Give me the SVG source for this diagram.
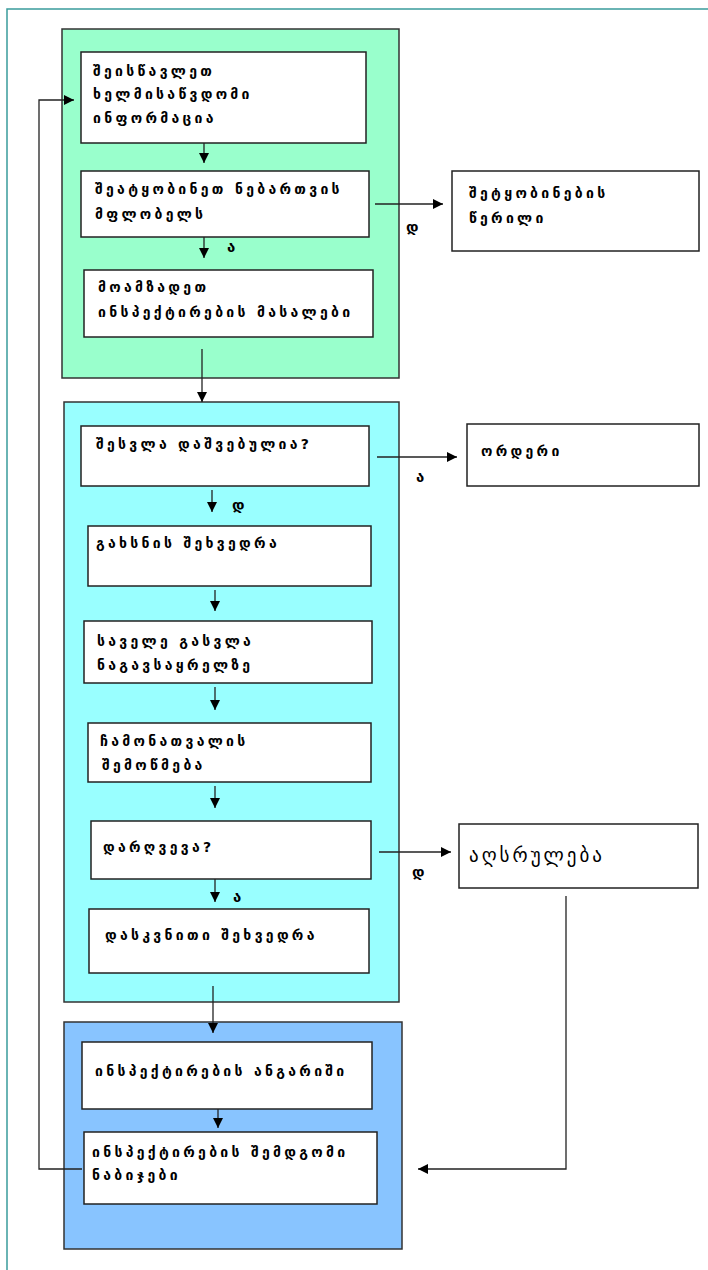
<svg xmlns="http://www.w3.org/2000/svg" width="708" height="1270" viewBox="0 0 708 1270">
<style>
.frame{fill:none;stroke:#3a9c9c;stroke-width:1.5}
.cont{stroke:#333;stroke-width:1.5}
.box{fill:#fff;stroke:#222;stroke-width:1.5}
.t{font-family:"DejaVu Sans",sans-serif;font-weight:bold;font-size:14px;letter-spacing:3.3px;fill:#000}
.r{font-family:"DejaVu Sans",sans-serif;font-size:19px;letter-spacing:3px;fill:#000}
.lbl{font-family:"DejaVu Sans",sans-serif;font-weight:bold;font-size:15px;fill:#000}
.c{fill:none;stroke:#222;stroke-width:1.3}
</style>
<defs>
<marker id="ah" viewBox="0 0 10 10" refX="10" refY="5" markerWidth="10" markerHeight="10" markerUnits="userSpaceOnUse" orient="auto">
<path d="M0,0 L10,5 L0,10 z" fill="#000"/>
</marker>
</defs>
<rect class="frame" x="7" y="9" width="720" height="1290"/>
<g id="container-1"><rect class="cont" x="62" y="29" width="337" height="349" fill="#99ffcc"/></g>
<g id="container-2"><rect class="cont" x="64" y="402" width="335" height="600" fill="#99ffff"/></g>
<g id="container-3"><rect class="cont" x="64" y="1022" width="338" height="227" fill="#88c4ff"/></g>

<g id="n1"><rect class="box" x="81" y="52" width="285" height="91"/>
<text class="t" x="93" y="76">შეისწავლეთ</text>
<text class="t" x="93" y="99">ხელმისაწვდომი</text>
<text class="t" x="93" y="123">ინფორმაცია</text></g>
<g id="n2"><rect class="box" x="81" y="171" width="288" height="66"/>
<text class="t" x="95" y="194">შეატყობინეთ ნებართვის</text>
<text class="t" x="95" y="219">მფლობელს</text></g>
<g id="n3"><rect class="box" x="84" y="270" width="289" height="67"/>
<text class="t" x="98" y="292">მოამზადეთ</text>
<text class="t" x="98" y="317">ინსპექტირების მასალები</text></g>
<g id="n4"><rect class="box" x="452" y="171" width="247" height="80"/>
<text class="t" x="469" y="198">შეტყობინების</text>
<text class="t" x="469" y="223">წერილი</text></g>

<g id="n5"><rect class="box" x="81" y="426" width="288" height="60"/>
<text class="t" x="96" y="449">შესვლა დაშვებულია?</text></g>
<g id="n6"><rect class="box" x="467" y="424" width="232" height="62"/>
<text class="t" x="481" y="456">ორდერი</text></g>
<g id="n7"><rect class="box" x="88" y="526" width="283" height="60"/>
<text class="t" x="96" y="548">გახსნის შეხვედრა</text></g>
<g id="n8"><rect class="box" x="84" y="621" width="288" height="62"/>
<text class="t" x="97" y="646">საველე გასვლა</text>
<text class="t" x="97" y="670">ნაგავსაყრელზე</text></g>
<g id="n9"><rect class="box" x="88" y="723" width="283" height="59"/>
<text class="t" x="100" y="746">ჩამონათვალის</text>
<text class="t" x="102" y="770">შემოწმება</text></g>
<g id="n10"><rect class="box" x="91" y="821" width="280" height="58"/>
<text class="t" x="103" y="852">დარღვევა?</text></g>
<g id="n11"><rect class="box" x="459" y="824" width="239" height="64"/>
<text class="r" x="469" y="862">აღსრულება</text></g>
<g id="n12"><rect class="box" x="89" y="909" width="280" height="64"/>
<text class="t" x="105" y="940">დასკვნითი შეხვედრა</text></g>

<g id="n13"><rect class="box" x="82" y="1042" width="290" height="67"/>
<text class="t" x="95" y="1076">ინსპექტირების ანგარიში</text></g>
<g id="n14"><rect class="box" x="84" y="1132" width="293" height="72"/>
<text class="t" x="92" y="1157">ინსპექტირების შემდგომი</text>
<text class="t" x="92" y="1180">ნაბიჯები</text></g>

<g id="connectors">
<path class="c" d="M204,143 V163" marker-end="url(#ah)"/>
<path class="c" d="M204,237 V258" marker-end="url(#ah)"/>
<path class="c" d="M202,349 V402" marker-end="url(#ah)"/>
<path class="c" d="M375,204 H443" marker-end="url(#ah)"/>
<path class="c" d="M377,457 H457" marker-end="url(#ah)"/>
<path class="c" d="M212,490 V512" marker-end="url(#ah)"/>
<path class="c" d="M215,590 V611" marker-end="url(#ah)"/>
<path class="c" d="M215,687 V710" marker-end="url(#ah)"/>
<path class="c" d="M215,786 V808" marker-end="url(#ah)"/>
<path class="c" d="M379,852 H451" marker-end="url(#ah)"/>
<path class="c" d="M215,879 V902" marker-end="url(#ah)"/>
<path class="c" d="M213,986 V1033" marker-end="url(#ah)"/>
<path class="c" d="M218,1109 V1128" marker-end="url(#ah)"/>
<path class="c" d="M566,896 V1169 H418" marker-end="url(#ah)"/>
<path class="c" d="M82,1169 H39 V100 H74" marker-end="url(#ah)"/>
<text class="lbl" x="227" y="252">ა</text>
<text class="lbl" x="406" y="232">დ</text>
<text class="lbl" x="416" y="482">ა</text>
<text class="lbl" x="232" y="510">დ</text>
<text class="lbl" x="412" y="877">დ</text>
<text class="lbl" x="233" y="902">ა</text>
</g>
</svg>
